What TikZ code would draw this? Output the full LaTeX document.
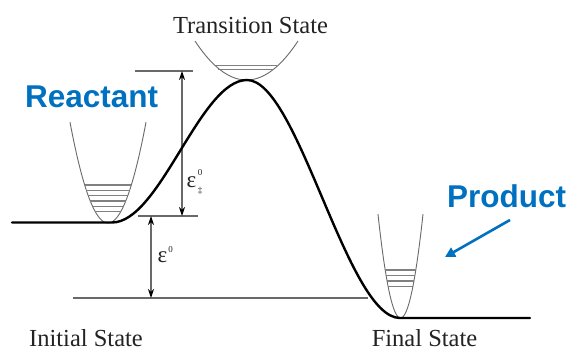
\documentclass[tikz,border=0pt]{standalone}
\usepackage{fontspec}
\setmainfont{Liberation Serif}
\newfontfamily\blusans{Liberation Sans}
\usetikzlibrary{arrows.meta}
\definecolor{pptblue}{RGB}{0,112,192}
\definecolor{dimgray}{RGB}{105,105,105}
\definecolor{txtgray}{RGB}{35,35,35}
\newcommand{\scrfont}{\fontsize{9}{10}\selectfont}
\begin{document}
\begin{tikzpicture}[x=1pt,y=-1pt,
  energy/.style={line width=2.4pt,black,line cap=round},
  well/.style={line width=0.9pt,dimgray},
  level/.style={line width=1.1pt,dimgray!85},
  dimline/.style={line width=1.4pt,dimgray},
  dimarrow/.style={line width=1.1pt,dimgray,{Stealth[length=9pt,width=6pt,black]}-{Stealth[length=9pt,width=6pt,black]}},
  statelabel/.style={font=\fontsize{24.5}{26}\selectfont,text=txtgray,inner sep=0pt,anchor=base},
  bluelabel/.style={font=\blusans\bfseries\fontsize{31.5}{33}\selectfont,text=pptblue,inner sep=0pt,anchor=base west},
  epslabel/.style={font=\fontsize{23}{24}\selectfont,text=txtgray,inner sep=0pt,anchor=base west}
]
\useasboundingbox (0,0) rectangle (571,351);
% reference lines
\coordinate (topL) at (135,71);
\coordinate (topR) at (193,71);
\coordinate (midL) at (138,216);
\coordinate (midR) at (198,216);
\coordinate (botL) at (73,298);
\coordinate (botR) at (368,298);
\draw[dimline] (topL) -- (topR);
\draw[dimline] (midL) -- (midR);
\draw[dimline] (botL) -- (botR);
% dimension arrows
\coordinate (a1t) at (182,71);
\coordinate (a1b) at (182,216);
\coordinate (a2t) at (151,216);
\coordinate (a2b) at (151,298);
\draw[dimarrow] (a1t) -- (a1b);
\draw[dimarrow] (a2t) -- (a2b);
\node[epslabel] (epsA) at (186.5,187) {ε\kern1.5pt\rlap{\raisebox{11.5pt}{\scrfont 0}}\raisebox{-6pt}{\scrfont ‡}};
\node[epslabel] (epsB) at (157.5,262) {ε\kern1pt\raisebox{10pt}{\scrfont 0}};
% wells
\draw[well] plot[domain=70:146,samples=60] (\x,{223-0.0698*(\x-108)*(\x-108)});
\foreach \yy in {185,190.3,195.7,201,206.4,211.7}{
  \pgfmathsetmacro{\hw}{sqrt((223-\yy)/0.0698)}
  \draw[level] ({108-\hw},\yy) -- ({108+\hw},\yy);
}
\draw[well] plot[domain=195:298,samples=60] (\x,{80-0.0147*(\x-246.5)*(\x-246.5)});
\draw[level] (215,65.5) -- (277,65.5);
\draw[level] (218,69.3) -- (274,69.3);
\draw[well] plot[domain=378:423,samples=60] (\x,{318-0.205*(\x-400.5)*(\x-400.5)});
\foreach \yy in {270,275.5,281,286.5}{
  \pgfmathsetmacro{\hw}{sqrt((318-\yy)/0.205)}
  \draw[level] ({400.5-\hw},\yy) -- ({400.5+\hw},\yy);
}
% energy curve
\coordinate (s0) at (12,222.5);
\coordinate (s1) at (112,222.5);
\coordinate (pk) at (247,80);
\coordinate (mn) at (400,318);
\coordinate (s2) at (530,318);
\draw[energy] (s0) -- (s1) .. controls (160,222.5) and (200,80) .. (pk)
  .. controls (298,80) and (347,318) .. (mn) -- (s2);
% labels
\node[statelabel] (ts) at (250.5,33) {Transition State};
\node[statelabel] (is) at (86,346) {Initial State};
\node[statelabel] (fs) at (424.5,346) {Final State};
\node[bluelabel] (react) at (25,107) {Reactant};
\node[bluelabel] (prod) at (447,207) {Product};
\coordinate (pa) at (510,220);
\coordinate (pb) at (445,257);
\draw[line width=2.6pt,pptblue,-{Triangle[length=10pt,width=10pt]}] (pa) -- (pb);
\end{tikzpicture}
\end{document}
